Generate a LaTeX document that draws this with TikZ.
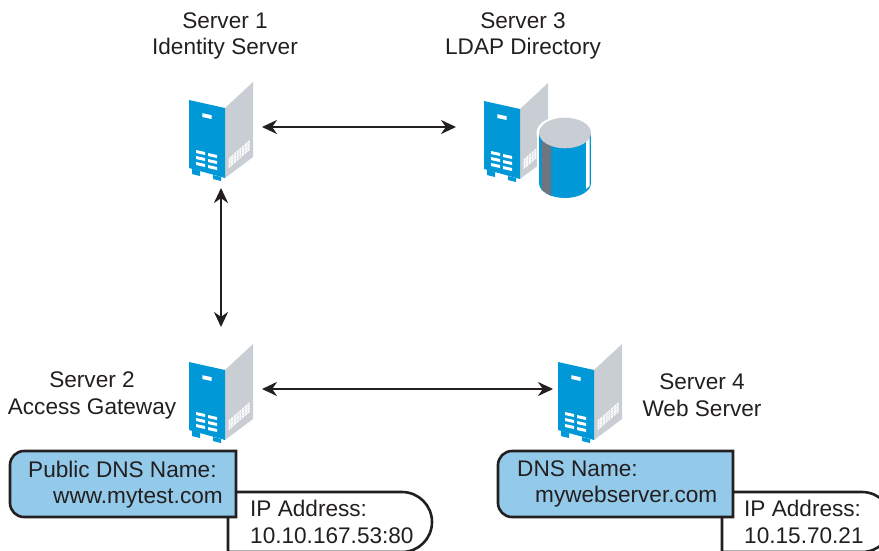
\documentclass[tikz,border=0pt]{standalone}
\usepackage{fontspec}
\setmainfont{Liberation Sans}
\usetikzlibrary{arrows.meta}
\definecolor{srvblue}{HTML}{0098D6}
\definecolor{srvgray}{HTML}{C9CED4}
\definecolor{srvdark}{HTML}{6D7580}
\definecolor{callblue}{HTML}{93C9E9}
\definecolor{ink}{HTML}{231F20}
\tikzset{
  lbl/.style={inner sep=0pt,text=ink,font=\fontsize{22.6pt}{26.5pt}\selectfont,align=center},
  lblL/.style={lbl,align=left},
  anchorbox/.style={inner sep=0pt,outer sep=0pt,minimum width=82pt,minimum height=#1},
  link/.style={line width=2.4pt,draw=ink,{Stealth[length=15pt,width=14pt]}-{Stealth[length=15pt,width=14pt]}},
  callA/.style={line width=2.6pt,draw=ink,fill=callblue},
  callB/.style={line width=2.6pt,draw=ink,fill=white},
  server/.pic={
    \fill[srvgray] (36,8) -- (64,-18) -- (64,57) -- (36,78) -- cycle;
    \fill[srvblue] (0,0) -- (36,8) -- (36,78) -- (0,68) -- cycle;
    \fill[srvblue] (3,68.5) -- (11,71) -- (11,76) -- (3,74) -- cycle;
    \fill[srvblue] (24,75) -- (32,77) -- (32,81) -- (24,79) -- cycle;
    \fill[white] (13.3,13.2) -- (22.7,15.2) -- (22.7,19) -- (13.3,17) -- cycle;
    \foreach \r in {0,6,12}{
      \fill[white] (7,50+\r) -- (16,52+\r) -- (16,55+\r) -- (7,53+\r) -- cycle;
      \fill[white] (19,53+\r) -- (28,55+\r) -- (28,58+\r) -- (19,56+\r) -- cycle;
    }
    \foreach \c in {0,...,7}{
      \foreach \r in {0,...,3}{
        \fill[white] ({39.5+\c*2.7},{58.5-\c*2.35+\r*2.6}) -- ++(2.1,-1.8) -- ++(0,2) -- ++(-2.1,1.8) -- cycle;
      }
    }
  }
}
\begin{document}
\begin{tikzpicture}[x=1pt,y=-1pt]
\useasboundingbox (0,0) rectangle (879,550);
\clip (0,0) rectangle (879,550);
% servers
\pic at (189,100) {server};
\pic at (484,101) {server};
\pic at (189,362) {server};
\pic at (558,362) {server};
% cylinder
\fill[white] (536.5,133) rectangle (593.5,183);
\fill[white] (565,133) ellipse (28.5pt and 17.5pt);
\fill[white] (565,183) ellipse (28.5pt and 17.5pt);
\fill[srvblue] (539,133) rectangle (591,183);
\fill[srvblue] (565,183) ellipse (26pt and 15pt);
\fill[srvdark] (541.5,140) -- (551,146) -- (551,196) -- (541.5,190) -- cycle;
\fill[white] (586,141) -- (589.5,138) -- (589.5,186) -- (586,189) -- cycle;
\fill[srvgray] (565,133) ellipse (26pt and 15.3pt);
% anchors of the servers for the connectors
\node[anchorbox=122pt] (s1) at (221,127) {};
\node[anchorbox=40pt] (s3) at (497,127) {};
\node[anchorbox=124pt] (s2) at (221,389) {};
\node[anchorbox=40pt] (s4) at (594,389) {};
\draw[link] (s1.east) -- (s3.west);
\draw[link] (s1.south) -- (s2.north);
\draw[link] (s2.east) -- (s4.west);
% labels
\node[lbl] (l1) at (225,36) {Server 1\\Identity Server};
\node[lbl] (l3) at (523,36) {Server 3\\LDAP Directory};
\node[lbl] (l2) at (92,395.5) {Server 2\\Access Gateway};
\node[lbl] (l4) at (702,395) {Server 4\\Web Server};
% callouts
\draw[callB] (228,560) -- (228,492) [rounded corners=30pt] -- (432,492) -- (432,552) -- (228,552);
\draw[callA] (236,517) [rounded corners=14pt] -- (10,517) -- (10,451) [sharp corners] -- (236,451) -- cycle;
\draw[callB] (722,560) -- (722,492) [rounded corners=30pt] -- (892,492) -- (892,552) -- (722,552);
\draw[callA] (733,517) [rounded corners=14pt] -- (498,517) -- (498,451) [sharp corners] -- (733,451) -- cycle;
\node[lblL,anchor=north west] (d1) at (28,460.5) {Public DNS Name:\\\hspace*{25pt}www.mytest.com};
\node[lblL,anchor=north west] (i1) at (250,500) {IP Address:\\10.10.167.53:80};
\node[lblL,anchor=north west] (d2) at (517,460.5) {DNS Name:\\\hspace*{18pt}mywebserver.com};
\node[lblL,anchor=north west] (i2) at (744,500) {IP Address:\\10.15.70.21};
\end{tikzpicture}
\end{document}
